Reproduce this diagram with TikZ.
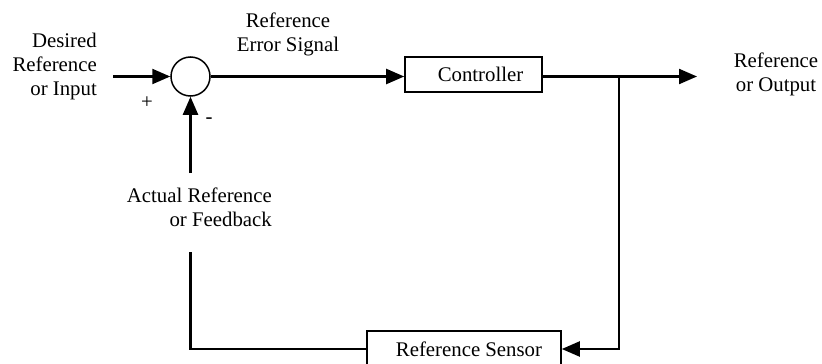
\documentclass[tikz,border=0pt]{standalone}
\usepackage{fontspec}
\setmainfont{Liberation Serif}
\usetikzlibrary{arrows.meta}
\tikzstyle{block} = [rectangle,draw,line width=1.6pt,text centered,inner sep=0pt]
\tikzstyle{sum} = [circle,draw,line width=1.5pt,minimum size=39pt,inner sep=0pt]
\tikzstyle{label} = [inner sep=0pt]
\tikzstyle{signal} = [line width=2.2pt,-{Triangle[length=18pt,width=15pt]}]
\tikzstyle{wire} = [line width=2.2pt]

\begin{document}
\begin{tikzpicture}[x=1pt,y=-1pt,font=\fontsize{20.8}{24}\selectfont]
		\useasboundingbox (0,0) rectangle (822,364);
		\node [sum] (sum) at (190.5,76.5) {};
		\node [block,minimum width=137pt,minimum height=35pt] (ctrl) at (473.5,74.5) {\hspace{14pt}Controller};
		\node [block,minimum width=194pt,minimum height=36pt] (sensor) at (464,349) {\hspace{10pt}Reference Sensor};
		\node [label,align=right,anchor=east] (input) at (97,66) {Desired\\Reference\\or Input};
		\node [label,align=center] (error) at (288,34) {Reference\\Error Signal};
		\node [label,align=center] (output) at (776,74) {Reference\\or Output};
		\node [label,align=right,anchor=east] (feedback) at (272,207.5) {Actual Reference\\or Feedback};
		\node [label] (plus) at (147,103) {+};
		\node [label] (minus) at (209,121) {-};
		\coordinate (in) at (113,76.5);
		\coordinate (out) at (697,76.5);
		\coordinate (branch) at (619,76.5);
		\coordinate (fblow) at (190.5,252);
		\coordinate (fbhigh) at (190.5,173);

		\draw[signal](in)--(sum.west);
		\draw[signal](sum.east)--(sum.east-|ctrl.west);
		\draw[signal](sum.east-|ctrl.east)--(out);
		\draw[signal](branch)|-(sensor.east);
		\draw[wire](sensor.west)-|(fblow);
		\draw[signal](fbhigh)--(sum.south);
\end{tikzpicture}
\end{document}
